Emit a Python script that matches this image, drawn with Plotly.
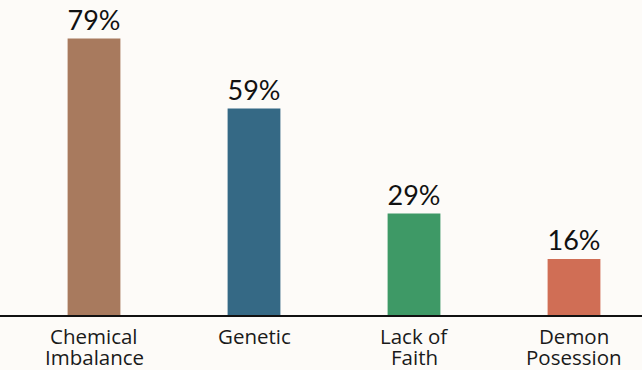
import plotly.graph_objects as go

categories = ["Chemical Imbalance", "Genetic", "Lack of Faith", "Demon Posession"]
label_line1 = ["Chemical", "Genetic", "Lack of", "Demon"]
label_line2 = ["Imbalance", "", "Faith", "Posession"]
values = [79, 59, 29, 16]
bar_colors = ["#A87A5E", "#356985", "#3E9966", "#D06E55"]

fig = go.Figure()
fig.add_trace(go.Bar(
    x=categories, y=values,
    marker=dict(color=bar_colors, line=dict(width=0)),
    width=0.33,
    text=[f"{v}%" for v in values],
    textposition="outside",
    textfont=dict(family="Lato", size=27, color="#111111"),
    constraintext="none",
    cliponaxis=False,
))

for c, l1, l2 in zip(categories, label_line1, label_line2):
    fig.add_annotation(x=c, y=0, xref="x", yref="y", text=l1, showarrow=False,
                       yanchor="top", yshift=-5,
                       font=dict(family="Open Sans", size=20.5, color="#1a1a1a"))
    if l2:
        fig.add_annotation(x=c, y=0, xref="x", yref="y", text=l2, showarrow=False,
                           yanchor="top", yshift=-26,
                           font=dict(family="Open Sans", size=20.5, color="#1a1a1a"))

fig.update_layout(
    width=642, height=370,
    margin=dict(l=0, r=0, t=0, b=55),
    paper_bgcolor="#FDFBF8", plot_bgcolor="#FDFBF8",
    showlegend=False,
    xaxis=dict(range=[-0.5875, 3.425], showticklabels=False, ticks="",
               showgrid=False, zeroline=False, showline=True,
               linecolor="#111111", linewidth=2),
    yaxis=dict(range=[0, 90], visible=False, showgrid=False, zeroline=False),
)

fig.write_html("out.html")
